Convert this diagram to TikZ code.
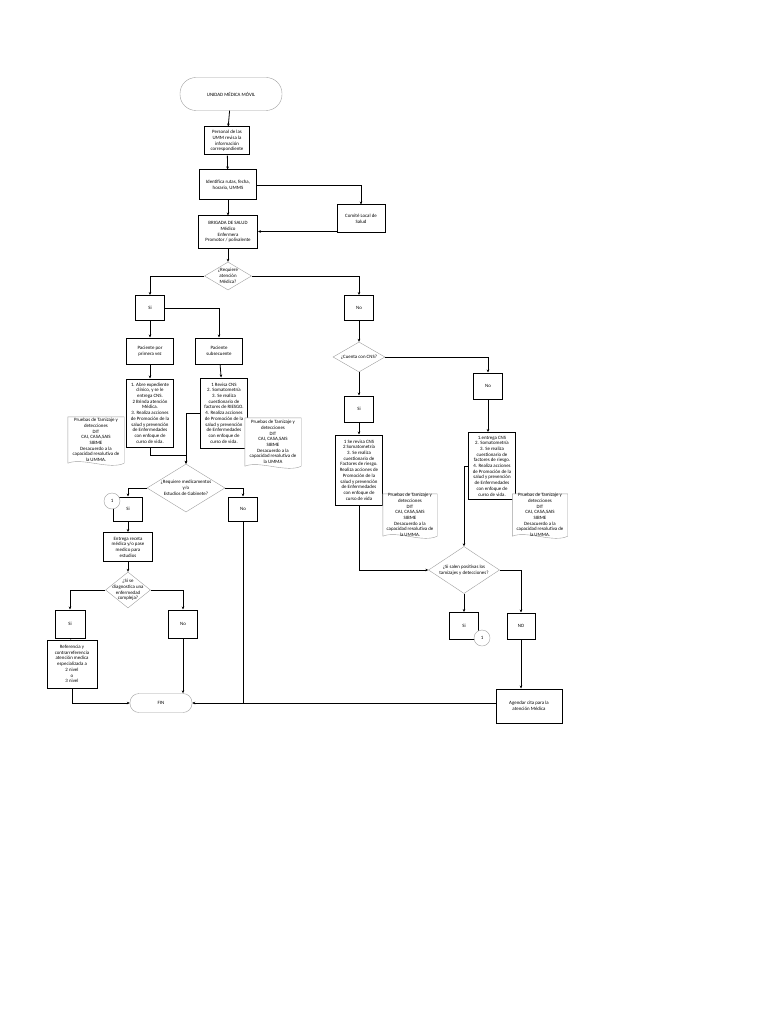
\documentclass[tikz,border=0pt]{standalone}
\usepackage{fontspec}
\setmainfont{Carlito}
\usetikzlibrary{positioning,shapes.geometric,arrows.meta}

% outline of a document shape round a text node
\newcommand\docshape[1]{%
  \draw[docline] (#1.north west) -- (#1.north east) -- (#1.south east)
    .. controls ([xshift=-14pt,yshift=-7pt]#1.south east)
    and ([xshift=14pt,yshift=6pt]#1.south west) .. (#1.south west) -- cycle;}

\begin{document}
\begin{tikzpicture}[x=1pt, y=-1pt,
    every node/.style={font=\fontsize{4.9}{5.7}\selectfont, align=center},
    procbox/.style={draw, line width=1pt, inner sep=0.5pt,
                    minimum width=47pt, minimum height=26pt},
    answer/.style={draw, line width=1pt, inner sep=1pt,
                   minimum width=29pt, minimum height=25pt},
    decision/.style={draw=gray!75, line width=0.4pt, diamond, inner sep=0pt},
    term/.style={draw=gray!75, line width=0.4pt, rounded corners=9pt,
                 inner sep=1pt},
    docnode/.style={inner sep=1pt, minimum width=56pt},
    docline/.style={draw=gray!75, line width=0.4pt, fill=white},
    ring/.style={draw=gray!75, line width=0.4pt, circle, fill=white,
                 minimum size=16pt, inner sep=0pt},
    conn/.style={line width=0.8pt},
    arr/.style={-{Stealth[length=3pt,width=2.6pt]}, line width=0.8pt}
  ]
  \useasboundingbox (0,0) rectangle (768,1024);

  % top part
  \node[term, minimum width=102pt, minimum height=33pt, rounded corners=16pt]
       (inicio) at (231,94) {UNIDAD MÉDICA MÓVIL};
  \node[procbox, minimum width=45pt, minimum height=28pt] (personal) at (227,141)
       {Personal de las\\UMM revisa la\\información\\correspondiente};
  \node[procbox, minimum width=57pt, minimum height=30pt] (rutas) at (228,185)
       {Identifica rutas, fecha,\\horario, UMMS};
  \node[procbox, minimum width=48pt, minimum height=28pt] (comite) at (361,219)
       {Comité Local de\\Salud};
  \node[procbox, minimum width=59pt, minimum height=32pt] (brigada) at (228,232)
       {BRIGADA DE SALUD\\Médico\\Enfermera\\Promotor / polivalente};
  \node[decision, minimum width=47pt, minimum height=28pt,
        label={center:{¿Requiere\\atención\\Médica?}}] (atencion) at (228,276) {};

  % left branch
  \node[answer] (si1) at (150,308) {Si};
  \node[procbox] (primera) at (150,351) {Paciente por\\primera vez};
  \node[procbox] (subsec) at (219,351) {Paciente\\subsecuente};
  \node[procbox, minimum height=68pt] (accA) at (150,413)
       {1. Abre expediente\\clínico, y se le\\entrega CNS.\\2 Brinda atención\\Médica.\\3. Realiza acciones\\de Promoción de la\\salud y prevención\\de Enfermedades\\con enfoque de\\curso de vida.};
  \node[procbox, minimum height=70pt] (accB) at (224,413)
       {1 Revisa CNS\\2. Somatometría\\3. Se realiza\\cuestionario de\\factores de RIESGO.\\4. Realiza acciones\\de Promoción de la\\salud y prevención\\de Enfermedades\\con enfoque de\\curso de vida.};
  \node[decision, minimum width=78pt, minimum height=48pt,
        label={center:{¿Requiere medicamentos\\y/o\\Estudios de Gabinete?}}] (medic) at (186,488) {};
  \node[answer, minimum height=24pt] (si2) at (128,509) {Si};
  \node[answer, minimum height=24pt] (no2) at (243,509) {No};
  \node[procbox, minimum width=49pt, minimum height=29pt] (receta) at (128,547)
       {Entrega receta\\médica y/o pase\\medico para\\estudios};
  \node[decision, minimum width=45pt, minimum height=36pt,
        label={center:{¿Si se\\diagnostica una\\enfermedad\\compleja?}}] (compleja) at (128,590) {};
  \node[answer, minimum width=30pt, minimum height=28pt] (si3) at (70,624) {Si};
  \node[answer, minimum height=28pt] (no3) at (183,624) {No};
  \node[procbox, minimum width=50pt, minimum height=48pt] (refer) at (72,664)
       {Referencia y\\contrarreferencia\\atención medica\\especializada a\\2 nivel\\o\\3 nivel};
  \node[term, minimum width=62pt, minimum height=19pt] (fin) at (161,703) {FIN};

  % right branch
  \node[answer] (no1) at (359,308) {No};
  \node[decision, minimum width=52pt, minimum height=30pt,
        label={center:{¿Cuenta con CNS?}}] (cns) at (359,357) {};
  \node[answer, minimum height=26pt] (si4) at (359,409) {Si};
  \node[answer, minimum height=26pt] (no4) at (488,386) {No};
  \node[procbox, minimum height=70pt] (accC) at (359,470)
       {1 Se revisa CNS\\2 Somatometría\\3. Se realiza\\cuestionario de\\Factores de riesgo.\\Realiza acciones de\\Promoción de la\\salud y prevención\\de Enfermedades\\con enfoque de\\curso de vida};
  \node[procbox, minimum height=67pt] (accD) at (492,466)
       {1.entrega CNS\\2. Somatometría\\3. Se realiza\\cuestionario de\\factores de riesgo.\\4. Realiza acciones\\de Promoción de la\\salud y prevención\\de Enfermedades\\con enfoque de\\curso de vida.};
  \node[decision, minimum width=71pt, minimum height=47pt,
        label={center:{¿Si salen positivas los\\tamizajes y detecciones?}}] (positivas) at (464,570) {};
  \node[answer, minimum height=27pt] (si5) at (464,626) {Si};
  \node[answer, minimum width=28pt, minimum height=26pt] (no5) at (521,626) {NO};
  \node[procbox, minimum width=66pt, minimum height=34pt] (agenda) at (529,706)
       {Agendar cita  para la\\atención Médica};

  % connectors
  \draw[arr] (inicio) -- (personal);
  \draw[arr] (personal) -- (rutas);
  \draw[arr] (rutas) -- (brigada);
  \draw[arr] (rutas.east) -| (comite.north);
  \draw[arr] ([yshift=2pt]comite.south west) -- ([yshift=2pt]comite.south west -| brigada.east);
  \draw[arr] (brigada) -- (atencion);
  \draw[arr] (atencion.west) -| (si1.north);
  \draw[arr] (atencion.east) -| (no1.north);
  \draw[arr] (si1) -- (primera);
  \draw[arr] (si1.east) -| (subsec.north);
  \draw[arr] (primera) -- (accA);
  \draw[arr] (subsec) -- (accB);
  \draw[arr] (accA.south) -- ++(0,8) -| (medic.north);
  \draw[arr] (accB.west) -| (medic.north);
  \draw[arr] (medic.west) -| (si2.north);
  \draw[arr] (medic.east) -| (no2.north);
  \draw[arr] (si2) -- (receta);
  \draw[arr] (receta) -- (compleja);
  \draw[arr] (compleja.west) -| (si3.north);
  \draw[arr] (compleja.east) -| (no3.north);
  \draw[conn] (si3) -- (refer);
  \draw[arr] (refer.south) |- (fin.west);
  \draw[arr] (no3.south) -- (no3.south |- fin.north);
  \draw[conn] (no2.south) -- (no2.south |- fin.east);
  \draw[arr] (agenda.west |- fin.east) -- (fin.east);

  \draw[arr] (no1) -- (cns);
  \draw[arr] (cns) -- (si4);
  \draw[arr] (cns.east) -| (no4.north);
  \draw[arr] (si4) -- (accC);
  \draw[arr] (no4.south) -- (no4.south |- accD.north);
  \draw[arr] (accC.south) |- (positivas.west);
  \draw[arr] (accD.west) -| (positivas.north);
  \draw[arr] (positivas) -- (si5);
  \draw[arr] (positivas.east) -| (no5.north);
  \draw[arr] (no5.south) -- (no5.south |- agenda.north);

  % documents
  \node[docnode, minimum height=46pt] (pruebasA) at (96,440) {};
  \docshape{pruebasA}
  \node at (pruebasA) {Pruebas de Tamizaje y\\detecciones\\DIT\\CAI, CASA,SAIS\\SIBME\\Desacuerdo a la\\capacidad resolutiva de\\la UMMA.};
  \node[docnode, minimum height=48pt] (pruebasB) at (273,442) {};
  \docshape{pruebasB}
  \node at (pruebasB) {Pruebas de Tamizaje y\\detecciones\\DIT\\CAI, CASA,SAIS\\SIBME\\Desacuerdo a la\\capacidad resolutiva de\\la UMMA};
  \node[docnode, minimum width=54pt, minimum height=42pt] (pruebasC) at (410,515) {};
  \docshape{pruebasC}
  \node at (pruebasC) {Pruebas de Tamizaje y\\detecciones\\DIT\\CAI, CASA,SAIS\\SIBME\\Desacuerdo a la\\capacidad resolutiva de\\la UMMA.};
  \node[docnode, minimum width=55pt, minimum height=42pt] (pruebasD) at (540,515) {};
  \docshape{pruebasD}
  \node at (pruebasD) {Pruebas de Tamizaje y\\detecciones\\DIT\\CAI, CASA,SAIS\\SIBME\\Desacuerdo a la\\capacidad resolutiva de\\la UMMA.};

  % connector rings
  \node[ring] (ringA) at (112,501) {1};
  \node[ring] (ringB) at (482,638) {1};
\end{tikzpicture}
\end{document}
